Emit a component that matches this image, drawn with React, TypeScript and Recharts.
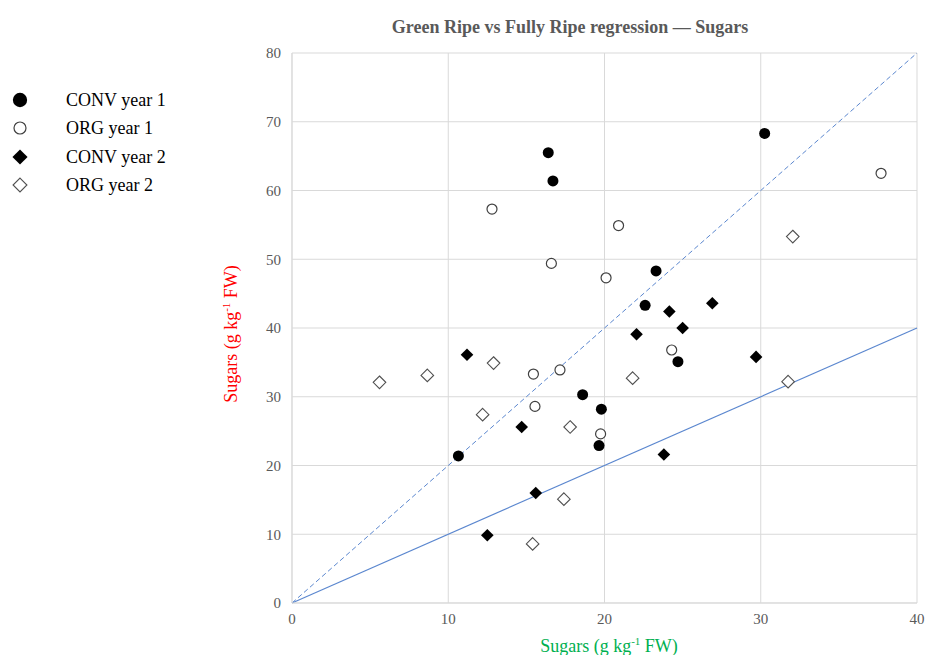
import React from "react";
import {
  ScatterChart,
  Scatter,
  XAxis,
  YAxis,
  CartesianGrid,
  ReferenceLine,
  Label,
} from "recharts";

const FONT = '"Liberation Serif", "Times New Roman", serif';

const xTicks = [0, 10, 20, 30, 40];
const yTicks = [0, 10, 20, 30, 40, 50, 60, 70, 80];

const convYear1: [number, number][] = [
  [16.4, 65.5], [16.7, 61.4], [30.25, 68.3], [23.3, 48.3], [22.6, 43.3],
  [24.7, 35.1], [18.6, 30.3], [19.8, 28.2], [19.65, 22.9], [10.65, 21.4],
];
const orgYear1: [number, number][] = [
  [12.8, 57.3], [20.9, 54.9], [16.6, 49.4], [20.1, 47.3], [37.7, 62.5],
  [24.3, 36.8], [17.15, 33.9], [15.45, 33.3], [15.55, 28.6], [19.75, 24.6],
];
const convYear2: [number, number][] = [
  [11.2, 36.1], [22.05, 39.1], [25.0, 40.0], [24.15, 42.4], [26.9, 43.6],
  [29.7, 35.8], [14.7, 25.6], [23.8, 21.6], [15.6, 16.0], [12.5, 9.85],
];
const orgYear2: [number, number][] = [
  [5.6, 32.1], [8.66, 33.1], [12.9, 34.9], [12.2, 27.4], [17.8, 25.6],
  [21.8, 32.7], [17.4, 15.1], [15.4, 8.6], [32.05, 53.3], [31.75, 32.2],
];

const legendLabels = ["CONV year 1", "ORG year 1", "CONV year 2", "ORG year 2"];
const title = "Green Ripe vs Fully Ripe regression \u2014 Sugars";

const toPts = (a: [number, number][]) => a.map(([x, y]) => ({ x, y }));

const LINE_COLOR = "#5b87cf";

type Kind = "fc" | "oc" | "fd" | "od";

const Marker = ({ kind, cx, cy, s = 1 }: { kind: Kind; cx: number; cy: number; s?: number }) => {
  if (kind === "fc") return <circle cx={cx} cy={cy} r={5.5 * s} fill="#000" />;
  if (kind === "oc")
    return <circle cx={cx} cy={cy} r={5 * s} fill="#fff" stroke="#404040" strokeWidth={1.2} />;
  const d = 6.3 * s;
  const pts = `${cx},${cy - d} ${cx + d},${cy} ${cx},${cy + d} ${cx - d},${cy}`;
  if (kind === "fd") return <polygon points={pts} fill="#000" />;
  return <polygon points={pts} fill="#fff" stroke="#505050" strokeWidth={1.1} />;
};

const shapeFor = (kind: Kind) => (props: any) => {
  const { cx, cy } = props;
  if (cx == null || cy == null) return <g />;
  return <Marker kind={kind} cx={cx} cy={cy} />;
};

const kinds: Kind[] = ["fc", "oc", "fd", "od"];

const YLabel = () => (
  <text
    x={237}
    y={334}
    transform="rotate(-90 237 334)"
    textAnchor="middle"
    fill="#ff0000"
    fontFamily={FONT}
    fontSize={18}
  >
    <tspan>Sugars (g kg</tspan>
    <tspan dy={-7} fontSize={11}>-1</tspan>
    <tspan dy={7}> FW)</tspan>
  </text>
);

const XLabel = () => (
  <text x={609} y={652} textAnchor="middle" fill="#00b050" fontFamily={FONT} fontSize={18}>
    <tspan>Sugars (g kg</tspan>
    <tspan dy={-7} fontSize={11}>-1</tspan>
    <tspan dy={7}> FW)</tspan>
  </text>
);

export default function App() {
  return (
    <div style={{ position: "absolute", left: 0, top: 0, width: 925, height: 655, background: "#fff" }}>
      <div
        style={{
          position: "absolute",
          left: 0,
          top: 16,
          width: 1140,
          textAlign: "center",
          fontFamily: FONT,
          fontWeight: "bold",
          fontSize: 18,
          color: "#595959",
          lineHeight: "22px",
        }}
      >
        {title}
      </div>
      <div style={{ position: "absolute", left: 0, top: 88, fontFamily: FONT, fontSize: 18, color: "#000" }}>
        {legendLabels.map((l, i) => (
          <div key={l} style={{ position: "absolute", top: i * 28.3, left: 0, height: 26, width: 200 }}>
            <svg width={40} height={26} style={{ position: "absolute", left: 0, top: 0 }}>
              <Marker kind={kinds[i]} cx={20} cy={12} s={i === 0 ? 1.3 : i === 3 ? 1.1 : 1.2} />
            </svg>
            <span style={{ position: "absolute", left: 66, top: 2, whiteSpace: "nowrap", lineHeight: "20px" }}>{l}</span>
          </div>
        ))}
      </div>
      <ScatterChart
        width={925}
        height={655}
        margin={{ top: 53, right: 8, bottom: 22, left: 252 }}
        style={{ position: "absolute", left: 0, top: 0 }}
      >
        <CartesianGrid stroke="#d9d9d9" strokeWidth={1} />
        <XAxis
          type="number"
          dataKey="x"
          domain={[0, 40]}
          ticks={xTicks}
          allowDataOverflow
          height={30}
          tickLine={false}
          axisLine={{ stroke: "#d9d9d9" }}
          tickSize={0}
          tickMargin={10}
          tick={{ fill: "#595959", fontFamily: FONT, fontSize: 15 }}
        >
          <Label content={<XLabel />} />
        </XAxis>
        <YAxis
          type="number"
          dataKey="y"
          domain={[0, 80]}
          ticks={yTicks}
          allowDataOverflow
          width={40}
          tickLine={false}
          axisLine={{ stroke: "#d9d9d9" }}
          tickSize={0}
          tickMargin={11}
          tick={{ fill: "#595959", fontFamily: FONT, fontSize: 15 }}
        >
          <Label content={<YLabel />} />
        </YAxis>
        <ReferenceLine
          segment={[{ x: 0, y: 0 }, { x: 40, y: 80 }]}
          stroke={LINE_COLOR}
          strokeWidth={1}
          strokeDasharray="5 3"
        />
        <ReferenceLine segment={[{ x: 0, y: 0 }, { x: 40, y: 40 }]} stroke={LINE_COLOR} strokeWidth={1.2} />
        <Scatter name={legendLabels[0]} data={toPts(convYear1)} shape={shapeFor("fc")} isAnimationActive={false} />
        <Scatter name={legendLabels[1]} data={toPts(orgYear1)} shape={shapeFor("oc")} isAnimationActive={false} />
        <Scatter name={legendLabels[2]} data={toPts(convYear2)} shape={shapeFor("fd")} isAnimationActive={false} />
        <Scatter name={legendLabels[3]} data={toPts(orgYear2)} shape={shapeFor("od")} isAnimationActive={false} />
      </ScatterChart>
    </div>
  );
}
